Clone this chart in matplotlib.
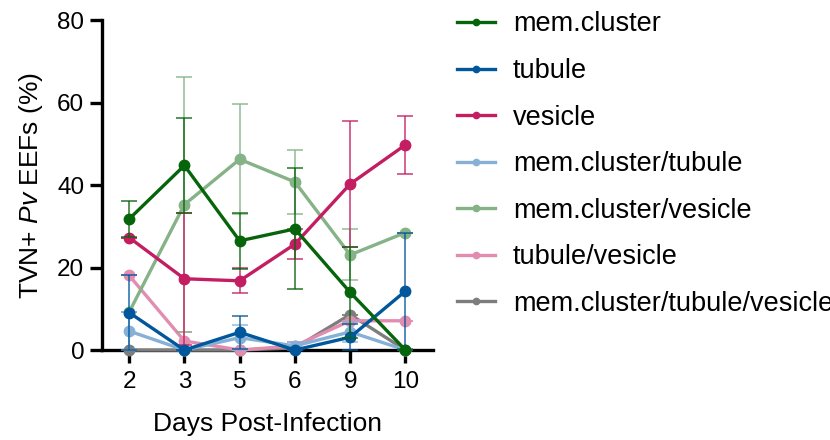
import numpy as np
import matplotlib.pyplot as plt

plt.rcParams['font.family'] = ['Liberation Sans', 'DejaVu Sans']
plt.rcParams['mathtext.fontset'] = 'custom'
plt.rcParams['mathtext.rm'] = 'Liberation Sans'
plt.rcParams['mathtext.it'] = 'Liberation Sans:italic'

days = ['2', '3', '5', '6', '9', '10']

labels = ['mem.cluster', 'tubule', 'vesicle', 'mem.cluster/tubule',
          'mem.cluster/vesicle', 'tubule/vesicle', 'mem.cluster/tubule/vesicle']
colors = ['#06650A', '#00579C', '#C41E62', '#86B0D6',
          '#85B286', '#E28CB0', '#7D7D7D']

mem_cluster = [31.8, 44.8, 26.5, 29.4, 14.0, 0.0]
mem_cluster_err = [4.3, 11.6, 6.8, 14.7, 11.0, 0.0]
tubule = [9.1, 0.0, 4.3, 0.0, 3.1, 14.3]
tubule_err = [9.1, 0.0, 4.0, 0.0, 3.1, 14.1]
vesicle = [27.3, 17.3, 16.8, 25.7, 40.3, 49.8]
vesicle_err = [0.0, 16.0, 3.0, 3.6, 15.3, 7.1]
mc_tubule = [4.6, 0.0, 3.0, 1.0, 4.4, 0.0]
mc_tubule_err = [4.6, 0.0, 3.0, 1.0, 2.5, 0.0]
mc_vesicle = [9.2, 35.3, 46.3, 40.8, 23.1, 28.5]
mc_vesicle_err = [0.0, 31.0, 13.4, 7.8, 6.2, 0.0]
tub_vesicle = [18.1, 2.2, 0.0, 1.0, 7.1, 7.1]
tub_vesicle_err = [0.0, 2.2, 0.0, 1.0, 0.0, 0.0]
mc_tub_ves = [0.0, 0.0, 0.0, 0.5, 8.6, 0.0]
mc_tub_ves_err = [0.0, 0.0, 0.0, 0.0, 0.0, 0.0]

series = [mem_cluster, tubule, vesicle, mc_tubule, mc_vesicle, tub_vesicle, mc_tub_ves]
errors = [mem_cluster_err, tubule_err, vesicle_err, mc_tubule_err,
          mc_vesicle_err, tub_vesicle_err, mc_tub_ves_err]

fig = plt.figure(figsize=(8.3, 4.4), dpi=100)
ax = fig.add_axes([0.1223, 0.2045, 0.3994, 0.749])

x = np.arange(len(days))
handles = []
for k in range(len(series)):
    y = np.array(series[k])
    e = np.array(errors[k])
    z = 20 - k
    ax.errorbar(x, y, yerr=e, fmt='none', ecolor=colors[k], elinewidth=1.3,
                capsize=6, capthick=1.3, alpha=0.75, zorder=z, clip_on=False)
    h, = ax.plot(x, y, '-o', color=colors[k], lw=2.4, ms=7.5, zorder=z,
                 clip_on=False, label=labels[k])
    handles.append(h)

ax.set_xlim(-0.5, 5.5)
ax.set_ylim(0, 80)
ax.set_xticks(x)
ax.set_xticklabels(days)
ax.set_yticks([0, 20, 40, 60, 80])
for s in ['top', 'right']:
    ax.spines[s].set_visible(False)
for s in ['left', 'bottom']:
    ax.spines[s].set_linewidth(2.4)
ax.tick_params(width=2.4, length=9, labelsize=17.5)
ax.tick_params(axis='x', pad=6)
ax.tick_params(axis='y', pad=3.5)
ax.set_xlabel('Days Post-Infection', fontsize=19, labelpad=14)
ax.set_ylabel(r'TVN+ $\mathit{Pv}$ EEFs (%)', fontsize=19, labelpad=9)

leg = fig.legend(handles=handles, labels=labels, loc='upper left',
                 bbox_to_anchor=(0.551, 0.974), frameon=False, fontsize=19.5,
                 borderaxespad=0, borderpad=0,
                 handlelength=1.4, handletextpad=0.65, labelspacing=0.76,
                 markerscale=0.6)

fig.savefig('out.png', dpi=100)
